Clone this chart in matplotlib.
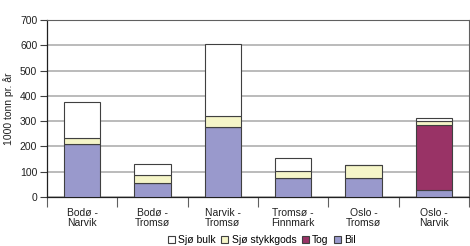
import matplotlib
matplotlib.use("Agg")
import matplotlib.pyplot as plt
import numpy as np

categories = ["Bodø -\nNarvik", "Bodø -\nTromsø", "Narvik -\nTromsø", "Tromsø -\nFinnmark", "Oslo -\nTromsø", "Oslo -\nNarvik"]
bil = [210, 55, 277, 74, 74, 28]
tog = [0, 0, 0, 0, 0, 258]
sjo_stykkgods = [25, 31, 42, 27, 51, 13]
sjo_bulk = [140, 44, 285, 52, 0, 12]
yticks = [0, 100, 200, 300, 400, 500, 600, 700]

plt.rcParams['font.family'] = ['Liberation Sans', 'DejaVu Sans']
fig = plt.figure(figsize=(4.7, 2.46), dpi=100)
ax = fig.add_axes([0.1, 0.199, 0.898, 0.72])

x = np.arange(len(categories))
w = 0.52
ec = '#404040'
lw = 0.8
b1 = ax.bar(x, bil, w, color='#9999cc', edgecolor=ec, linewidth=lw, label='Bil', zorder=3)
bottom = np.array(bil)
tog_arr = np.array(tog)
b2 = ax.bar(x, tog_arr, w, bottom=bottom, color='#993366', edgecolor=ec, linewidth=lw, label='Tog', zorder=3)
bottom = bottom + tog_arr
sk = np.array(sjo_stykkgods)
b3 = ax.bar(x, sk, w, bottom=bottom, color='#f5f5c8', edgecolor=ec, linewidth=lw, label='Sjø stykkgods', zorder=3)
bottom = bottom + sk
bu = np.array(sjo_bulk)
b4 = ax.bar(x, bu, w, bottom=bottom, color='white', edgecolor=ec, linewidth=lw, label='Sjø bulk', zorder=3)

ax.set_xlim(-0.5, len(categories) - 0.5)
ax.set_ylim(0, 700)
ax.set_yticks(yticks)
ax.tick_params(axis='y', labelsize=7.5, length=5, width=0.8, color='#404040', pad=2, labelcolor='#202020')
ax.set_xticks(x)
ax.set_xticklabels(categories, fontsize=7.5, linespacing=1.0, color='#202020')
ax.tick_params(axis='x', length=0, pad=8)
ax.set_xticks(np.arange(-0.5, len(categories), 1.0), minor=True)
ax.tick_params(axis='x', which='minor', length=7, width=0.8, color='#606060')
ax.yaxis.grid(True, color='#a8a8a8', linewidth=1.1, zorder=0)
ax.set_axisbelow(True)
for s in ['left', 'bottom']:
    ax.spines[s].set_color('#202020')
    ax.spines[s].set_linewidth(0.9)
for s in ['top', 'right']:
    ax.spines[s].set_color('#606060')
    ax.spines[s].set_linewidth(0.8)
ax.set_ylabel('1000 tonn pr. år', fontsize=7.5, labelpad=4, color='#202020')

handles = [b4, b3, b2, b1]
labels = ['Sjø bulk', 'Sjø stykkgods', 'Tog', 'Bil']
fig.legend(handles, labels, loc='center', bbox_to_anchor=(0.557, 0.025), ncol=4, fontsize=7.5,
           frameon=False, handlelength=0.7, handleheight=0.7, handletextpad=0.3, columnspacing=0.5)

fig.savefig('out.png', dpi=100)
